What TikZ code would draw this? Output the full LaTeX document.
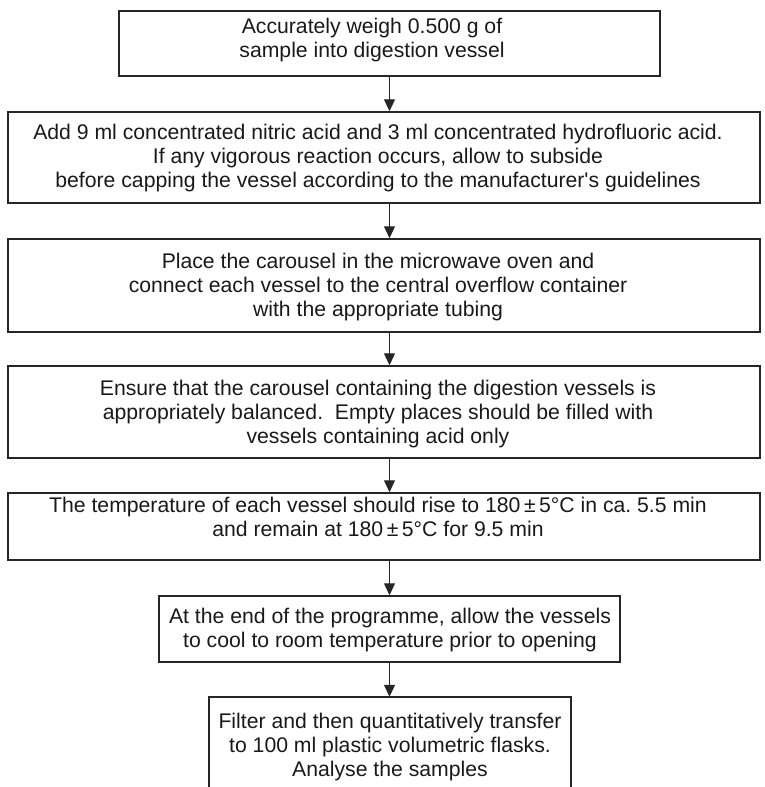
\documentclass[tikz,border=0pt]{standalone}
\usepackage{fontspec}
\setmainfont{Liberation Sans}
\usetikzlibrary{arrows.meta,calc}
\begin{document}
\begin{tikzpicture}[x=1pt,y=-1pt,
  box/.style={draw=black!85, line width=1.5pt, inner sep=0pt},
  txt/.style={font=\fontsize{21.2}{24}\selectfont, align=center, text=black!90, inner sep=0pt},
  arr/.style={line width=1.2pt, draw=black!85, -{Triangle[length=12pt,width=11pt]}}]
\useasboundingbox (0,0) rectangle (764,787);
% boxes
\node[box, minimum width=541pt, minimum height=65pt] (b1) at (389.5,43.5) {};
\node[box, minimum width=752pt, minimum height=91pt] (b2) at (384,157.5) {};
\node[box, minimum width=752pt, minimum height=93pt] (b3) at (384,285.5) {};
\node[box, minimum width=752pt, minimum height=92pt] (b4) at (384,412) {};
\node[box, minimum width=752pt, minimum height=67pt] (b5) at (384,526.5) {};
\node[box, minimum width=461pt, minimum height=66pt] (b6) at (389.5,629) {};
\node[minimum width=362pt, minimum height=100pt, inner sep=0pt] (b7) at (390,747) {};
\draw[draw=black!85, line width=1.5pt] (b7.south west) -- (b7.north west) -- (b7.north east) -- (b7.south east);
% texts
\node[txt] (t1) at (372,40.5) {Accurately weigh 0.500 g of\\sample into digestion vessel};
\node[txt] (t2) at (378,158) {Add 9 ml concentrated nitric acid and 3 ml concentrated hydrofluoric acid.\\If any vigorous reaction occurs, allow to subside\\before capping the vessel according to the manufacturer\textquotesingle s guidelines};
\node[txt] (t3) at (378,287) {Place the carousel in the microwave oven and\\connect each vessel to the central overflow container\\with the appropriate tubing};
\node[txt] (t4) at (378,414) {Ensure that the carousel containing the digestion vessels is\\appropriately balanced.\ \ Empty places should be filled with\\vessels containing acid only};
\node[txt] (t5) at (378,517) {The temperature of each vessel should rise to 180\,±\,5°C in ca.\ 5.5 min\\and remain at 180\,±\,5°C for 9.5 min};
\node[txt] (t6) at (390,630) {At the end of the programme, allow the vessels\\to cool to room temperature prior to opening};
\node[txt] (t7) at (390,747) {Filter and then quantitatively transfer\\to 100 ml plastic volumetric flasks.\\Analyse the samples};
% arrows
\draw[arr] (b1.south) -- (b2.north -| b1.south);
\draw[arr] (b2.south -| b1.south) -- (b3.north -| b1.south);
\draw[arr] (b3.south -| b1.south) -- (b4.north -| b1.south);
\draw[arr] (b4.south -| b1.south) -- (b5.north -| b1.south);
\draw[arr] (b5.south -| b1.south) -- (b6.north -| b1.south);
\draw[arr] (b6.south -| b1.south) -- (b7.north -| b1.south);
\end{tikzpicture}
\end{document}
